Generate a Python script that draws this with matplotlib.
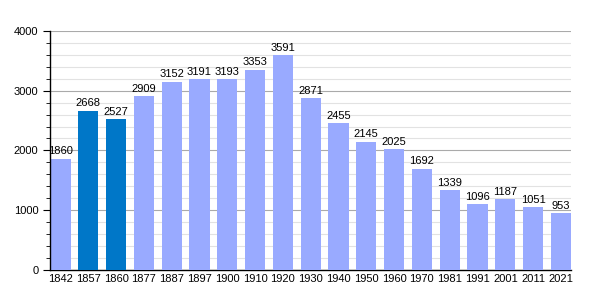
import matplotlib.pyplot as plt
from matplotlib.ticker import MultipleLocator

plt.rcParams['font.family'] = ['Liberation Sans', 'DejaVu Sans']

years = ['1842', '1857', '1860', '1877', '1887', '1897', '1900', '1910', '1920', '1930',
         '1940', '1950', '1960', '1970', '1981', '1991', '2001', '2011', '2021']
population = [1860, 2668, 2527, 2909, 3152, 3191, 3193, 3353, 3591, 2871,
              2455, 2145, 2025, 1692, 1339, 1096, 1187, 1051, 953]
highlight = ['1857', '1860']

light = '#99aaff'
dark = '#0077c8'
colors = [dark if y in highlight else light for y in years]
bar_w = 0.73

fig = plt.figure(figsize=(6, 3), dpi=100)
ax = fig.add_axes([0.0838, 0.1, 0.868, 0.797])

x = range(len(years))
ax.bar(x, population, width=bar_w, color=colors, zorder=3)
for xi, v in zip(x, population):
    ax.text(xi, v + 40, str(v), ha='center', va='bottom', fontsize=8, zorder=4)

ax.set_xlim(-bar_w / 2, len(years) - 1 + bar_w / 2)
ax.set_ylim(0, 4000)
ax.set_xticks(list(x))
ax.set_xticklabels(years, fontsize=8)
ax.yaxis.set_major_locator(MultipleLocator(1000))
ax.yaxis.set_minor_locator(MultipleLocator(200))
ax.tick_params(axis='y', labelsize=8, length=5, which='major')
ax.tick_params(axis='y', length=3, which='minor')
ax.tick_params(axis='x', length=0, pad=3)
ax.grid(axis='y', which='major', color='#aaaaaa', linewidth=0.8, zorder=0)
ax.grid(axis='y', which='minor', color='#e2e2e2', linewidth=0.8, zorder=0)
for s in ['top', 'right']:
    ax.spines[s].set_visible(False)
ax.spines['left'].set_linewidth(1)
ax.spines['bottom'].set_linewidth(1)
ax.spines['left'].set_zorder(5)

fig.savefig('out.png', dpi=100)
